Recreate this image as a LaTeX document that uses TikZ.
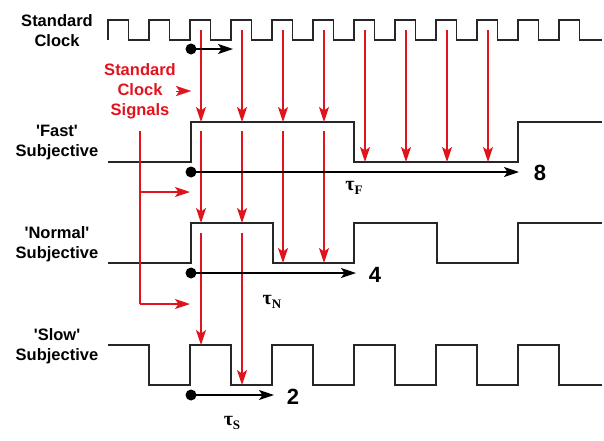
\documentclass[tikz,border=0pt]{standalone}
\usepackage{fontspec}
\newfontfamily\lsans{Liberation Sans}
\newfontfamily\lserif{Liberation Serif}
\usetikzlibrary{arrows.meta}
\definecolor{sigred}{RGB}{225,20,30}
\tikzset{
  sig/.style={line width=1.5pt, black!85},
  redarr/.style={line width=1.6pt, sigred, -{Stealth[length=15pt,width=10pt,inset=3.5pt]}},
  blkarr/.style={line width=1.6pt, black, -{Stealth[length=15pt,width=10pt,inset=3.5pt]}},
  lbl/.style={font=\lsans\bfseries\fontsize{16.5}{20}\selectfont, align=center, inner sep=0pt},
  redlbl/.style={lbl, text=sigred},
  num/.style={font=\lsans\bfseries\fontsize{22}{22}\selectfont, inner sep=0pt},
  tau/.style={font=\lserif\bfseries\fontsize{20}{20}\selectfont, inner sep=0pt},
  dot/.style={circle, fill=black, minimum size=11pt, inner sep=0pt}
}
\newcommand\tausub[1]{τ\raisebox{-4pt}{\fontsize{13}{13}\selectfont #1}}
\begin{document}
\begin{tikzpicture}[x=1pt,y=-1pt]
\useasboundingbox (0,0) rectangle (604,440);
% labels
\node[lbl] (lclk) at (57,31) {Standard\\Clock};
\node[lbl] (lfast) at (57,143) {'Fast'\\Subjective};
\node[lbl] (lnorm) at (57,244) {'Normal'\\Subjective};
\node[lbl] (lslow) at (57,346) {'Slow'\\Subjective};
\node[redlbl] (lsig) at (140,91) {Standard\\Clock\\Signals};
% signals
\draw[sig] (108,40) \foreach \k in {0,...,11}{ -- ++(0,-20) -- ++(20.5,0) -- ++(0,20) -- ++(20.5,0)} -- (602,40);
\draw[sig] (108,162) -- (191,162) -- (191,122) -- (354,122) -- (354,162) -- (518,162) -- (518,122) -- (602,122);
\draw[sig] (108,263) -- (191,263) -- (191,223) -- (273,223) -- (273,263) -- (354,263) -- (354,223) -- (437,223) -- (437,263) -- (518,263) -- (518,223) -- (602,223);
\draw[sig] (108,345) -- (149,345) -- (149,385) \foreach \k in {0,...,4}{ -- ++(41,0) -- ++(0,-40) -- ++(41,0) -- ++(0,40)} -- (602,385);
% red signal arrows: clock -> fast
\foreach \x/\e in {201/122,242/122,283/122,324/122,365/162,406/162,447/162,488/162}{
  \coordinate (cs\x) at (\x,30);
  \coordinate (fe\x) at (\x,\e);
  \draw[redarr] (cs\x) -- (fe\x);
}
% fast -> normal
\foreach \x/\e in {201/223,242/223,283/263,324/263}{
  \coordinate (fs\x) at (\x,131);
  \coordinate (ne\x) at (\x,\e);
  \draw[redarr] (fs\x) -- (ne\x);
}
% normal -> slow
\foreach \x/\e in {201/345,242/385}{
  \coordinate (ns\x) at (\x,233);
  \coordinate (se\x) at (\x,\e);
  \draw[redarr] (ns\x) -- (se\x);
}
% red bracket
\coordinate (bt) at (140,131);
\coordinate (bm) at (140,192);
\coordinate (bb) at (140,304);
\coordinate (bme) at (190,192);
\coordinate (bbe) at (190,304);
\draw[line width=1.6pt, sigred] (bt) -- (bb);
\draw[redarr] (bm) -- (bme);
\draw[redarr] (bb) -- (bbe);
% red arrowhead next to label
\coordinate (ha) at (176,91);
\coordinate (hb) at (191,91);
\draw[sigred, -{Stealth[length=15pt,width=10pt,inset=3.5pt]}, line width=0.1pt] (ha) -- (hb);
% black duration arrows
\node[dot] (d0) at (191,49) {};
\coordinate (e0) at (233,49);
\draw[blkarr] (d0.center) -- (e0);
\node[dot] (d1) at (191,172) {};
\coordinate (e1) at (519,172);
\node[num] (n8) at (540,173) {8};
\draw[blkarr] (d1.center) -- (e1);
\node[dot] (d2) at (191,273) {};
\coordinate (e2) at (356,273);
\node[num] (n4) at (375,275) {4};
\draw[blkarr] (d2.center) -- (e2);
\node[dot] (d3) at (191,395) {};
\coordinate (e3) at (274,395);
\node[num] (n2) at (293,397) {2};
\draw[blkarr] (d3.center) -- (e3);
\node[tau] (tf) at (354,188) {\tausub{F}};
\node[tau] (tn) at (272,302) {\tausub{N}};
\node[tau] (ts) at (232,423) {\tausub{S}};
\end{tikzpicture}
\end{document}
